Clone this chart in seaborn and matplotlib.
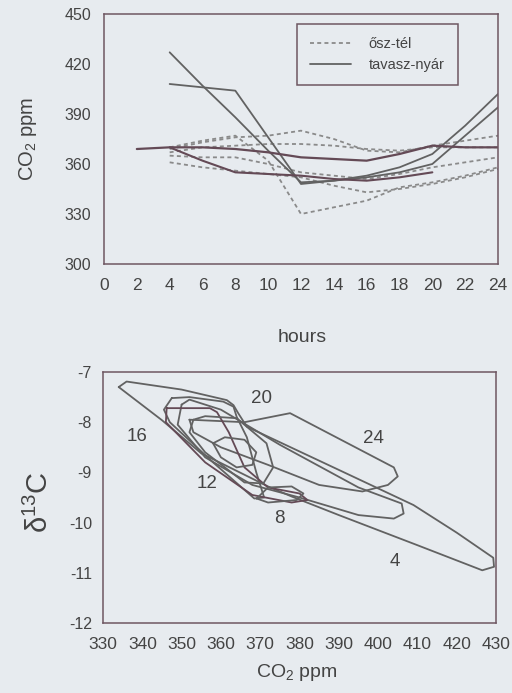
import numpy as np
import pandas as pd
import matplotlib
matplotlib.use("Agg")
import matplotlib.pyplot as plt
from matplotlib.lines import Line2D
import seaborn as sns

sns.set_theme(style="white")
plt.rcParams['font.family'] = ['Liberation Sans', 'DejaVu Sans']
plt.rcParams['mathtext.default'] = 'regular'
plt.rcParams['axes.unicode_minus'] = False

nan = np.nan
# ---------------- top panel data (CO2 ppm vs hours) ----------------
hours = [2, 4, 6, 8, 10, 12, 14, 16, 18, 20, 22, 24]
tavasz_1 = [nan, 427, 407, 388, 368, 349, 350, 352, 355, 360, 377, 394]
tavasz_2 = [nan, 408, 406, 404, 376, 348, 350, 353, 358, 366, 383, 402]
tavasz_3 = [369, 370, 370, 369, 367, 364, 363, 362, 366, 371, 370, 370]
tavasz_4 = [nan, 370, 362, 355, 354, 353, 351, 350, 352, 355, nan, nan]
osz_1 = [nan, 369, 373, 376, 377, 380, 375, 368, 367, 371, 374, 377]
osz_2 = [nan, 367, 370, 371, 372, 372, 371, 369, 368, 370, 370, 370]
osz_3 = [nan, 365, 364, 364, 360, 355, 353, 351, 354, 358, 361, 364]
osz_4 = [nan, 361, 358, 356, 354, 352, 347, 343, 345, 348, 352, 357]
osz_5 = [nan, 370, 374, 377, 362, 330, 334, 338, 346, 349, 353, 358]

x_ticks_top = list(range(0, 25, 2))
y_ticks_top = [300, 330, 360, 390, 420, 450]

# ---------------- bottom panel data (delta13C vs CO2 loops) ----------------
loop1_co2 = [334, 336, 350, 361.5, 363.2, 364.4, 366.6, 390, 409, 420, 429.3, 429.5, 426.5, 410, 390, 378, 372, 355, 345, 334]
loop1_d13 = [-7.3, -7.19, -7.35, -7.56, -7.66, -7.82, -8.09, -8.95, -9.65, -10.2, -10.7, -10.88, -10.95, -10.45, -9.85, -9.48, -9.28, -8.62, -7.96, -7.3]
loop2_co2 = [352, 366, 377.6, 404, 405, 402.5, 396, 385, 372, 360, 353, 352]
loop2_d13 = [-7.95, -8.0, -7.82, -8.9, -9.08, -9.25, -9.38, -9.25, -8.85, -8.5, -8.2, -7.95]
loop3_co2 = [350, 352, 360, 375, 395, 406, 406.5, 404, 395, 380, 368, 356, 349, 350]
loop3_d13 = [-7.65, -7.55, -7.75, -8.45, -9.3, -9.62, -9.82, -9.92, -9.85, -9.5, -9.25, -8.7, -8.05, -7.65]
loop4_co2 = [347.5, 352, 360.6, 363.2, 364, 366.6, 369, 371, 368.5, 358, 347, 345.5, 347.5]
loop4_d13 = [-7.52, -7.5, -7.59, -7.69, -7.89, -8.3, -9.0, -9.5, -9.52, -8.8, -8.0, -7.75, -7.52]
loop5_co2 = [346.2, 357.2, 359, 362, 366, 372, 380, 382, 378, 368, 356, 346, 346.2]
loop5_d13 = [-7.72, -7.72, -7.8, -8.2, -8.9, -9.3, -9.42, -9.55, -9.6, -9.45, -8.8, -8.0, -7.72]
loop6_co2 = [353, 356, 364, 371.6, 373.3, 370.8, 366, 356, 352, 353]
loop6_d13 = [-7.95, -7.88, -7.92, -8.42, -8.9, -9.22, -9.2, -8.6, -8.2, -7.95]
loop7_co2 = [358, 361, 366, 369, 368, 364, 360, 358]
loop7_d13 = [-8.42, -8.3, -8.35, -8.6, -8.85, -8.9, -8.7, -8.42]
loop8_co2 = [369.1, 372, 378, 381, 379.3, 372, 369.1]
loop8_d13 = [-9.52, -9.3, -9.28, -9.42, -9.55, -9.6, -9.52]

hour_labels = ["20", "16", "24", "12", "8", "4"]
hour_label_co2 = [370.4, 338.6, 398.8, 356.4, 375.0, 404.3]
hour_label_d13 = [-7.52, -8.29, -8.32, -9.22, -9.92, -10.78]

x_ticks_bot = list(range(330, 431, 10))
y_ticks_bot = [-12, -11, -10, -9, -8, -7]

# ---------------- styling ----------------
BG = "#e7ebef"
FRAME = "#6e5762"
TXT = "#444444"
SOLID = "#626262"
MAROON = "#644a56"
DASH = "#8a8a8a"

fig = plt.figure(figsize=(5.12, 6.93), dpi=100, facecolor=BG)

# ---- top axes ----
ax1 = fig.add_axes([104/512, 1-264/693, 394/512, 250/693])
ax1.set_facecolor(BG)

osz_series = [osz_1, osz_2, osz_3, osz_4, osz_5]
for s in osz_series:
    d = pd.DataFrame({"hours": hours, "co2": s}).dropna()
    sns.lineplot(data=d, x="hours", y="co2", ax=ax1, color=DASH, lw=1.3,
                 estimator=None, linestyle=(0, (2.2, 1.8)))
for s, c, w in [(tavasz_1, SOLID, 1.3), (tavasz_2, SOLID, 1.3),
                (tavasz_3, MAROON, 1.6), (tavasz_4, MAROON, 1.5)]:
    d = pd.DataFrame({"hours": hours, "co2": s}).dropna()
    sns.lineplot(data=d, x="hours", y="co2", ax=ax1, color=c, lw=w, estimator=None)

ax1.set_xlim(0, 24)
ax1.set_ylim(300, 450)
ax1.set_xticks(x_ticks_top)
ax1.set_yticks(y_ticks_top)
ax1.tick_params(axis="both", direction="in", length=3, width=0.8, color="#9a9a9a",
                labelcolor=TXT)
ax1.tick_params(axis="x", labelsize=12.5, pad=10)
ax1.tick_params(axis="y", labelsize=11.5, pad=9)
ax1.set_xlabel("hours", fontsize=14, color=TXT)
ax1.xaxis.set_label_coords(0.503, -0.26)
ax1.set_ylabel("CO$_2$ ppm", fontsize=14.5, color=TXT)
ax1.yaxis.set_label_coords(-0.165, 0.5)
for sp in ax1.spines.values():
    sp.set_color(FRAME)
    sp.set_linewidth(1.1)

handles = [Line2D([], [], color=DASH, lw=1.3, linestyle=(0, (2.2, 1.8))),
           Line2D([], [], color=SOLID, lw=1.3)]
leg = ax1.legend(handles, ["ősz-tél", "tavasz-nyár"], loc="upper left",
                 bbox_to_anchor=(0.49, 0.96), fontsize=10.5, frameon=True,
                 fancybox=False, framealpha=1, facecolor=BG, edgecolor=FRAME,
                 handlelength=2.8, handletextpad=1.2, borderpad=0.9,
                 labelspacing=0.45, borderaxespad=0)
leg.get_frame().set_linewidth(1.1)
for t in leg.get_texts():
    t.set_color(TXT)

# ---- bottom axes ----
ax2 = fig.add_axes([103/512, 1-623/693, 393/512, 251/693])
ax2.set_facecolor(BG)
loops = [(loop1_co2, loop1_d13, SOLID), (loop2_co2, loop2_d13, SOLID),
         (loop3_co2, loop3_d13, SOLID), (loop4_co2, loop4_d13, SOLID),
         (loop5_co2, loop5_d13, MAROON), (loop6_co2, loop6_d13, SOLID),
         (loop7_co2, loop7_d13, SOLID), (loop8_co2, loop8_d13, SOLID)]
for xs, ys, c in loops:
    d = pd.DataFrame({"co2": xs, "d13": ys})
    sns.lineplot(data=d, x="co2", y="d13", ax=ax2, color=c, lw=1.3,
                 sort=False, estimator=None, solid_joinstyle="round")
for lab, xv, yv in zip(hour_labels, hour_label_co2, hour_label_d13):
    ax2.text(xv, yv, lab, fontsize=13.5, color=TXT, ha="center", va="center")

ax2.set_xlim(330, 430)
ax2.set_ylim(-12, -7)
ax2.set_xticks(x_ticks_bot)
ax2.set_yticks(y_ticks_bot)
ax2.tick_params(axis="both", direction="in", length=3, width=0.8, color="#9a9a9a",
                labelcolor=TXT)
ax2.tick_params(axis="x", labelsize=12.5, pad=10)
ax2.tick_params(axis="y", labelsize=11.5, pad=8)
ax2.set_xlabel("CO$_2$ ppm", fontsize=14, color=TXT)
ax2.xaxis.set_label_coords(0.494, -0.155)
ax2.set_ylabel("δ$^{13}$C", fontsize=21, color=TXT)
ax2.yaxis.set_label_coords(-0.125, 0.48)
for sp in ax2.spines.values():
    sp.set_color(FRAME)
    sp.set_linewidth(1.1)

fig.savefig("out.png", dpi=100, facecolor=BG)
